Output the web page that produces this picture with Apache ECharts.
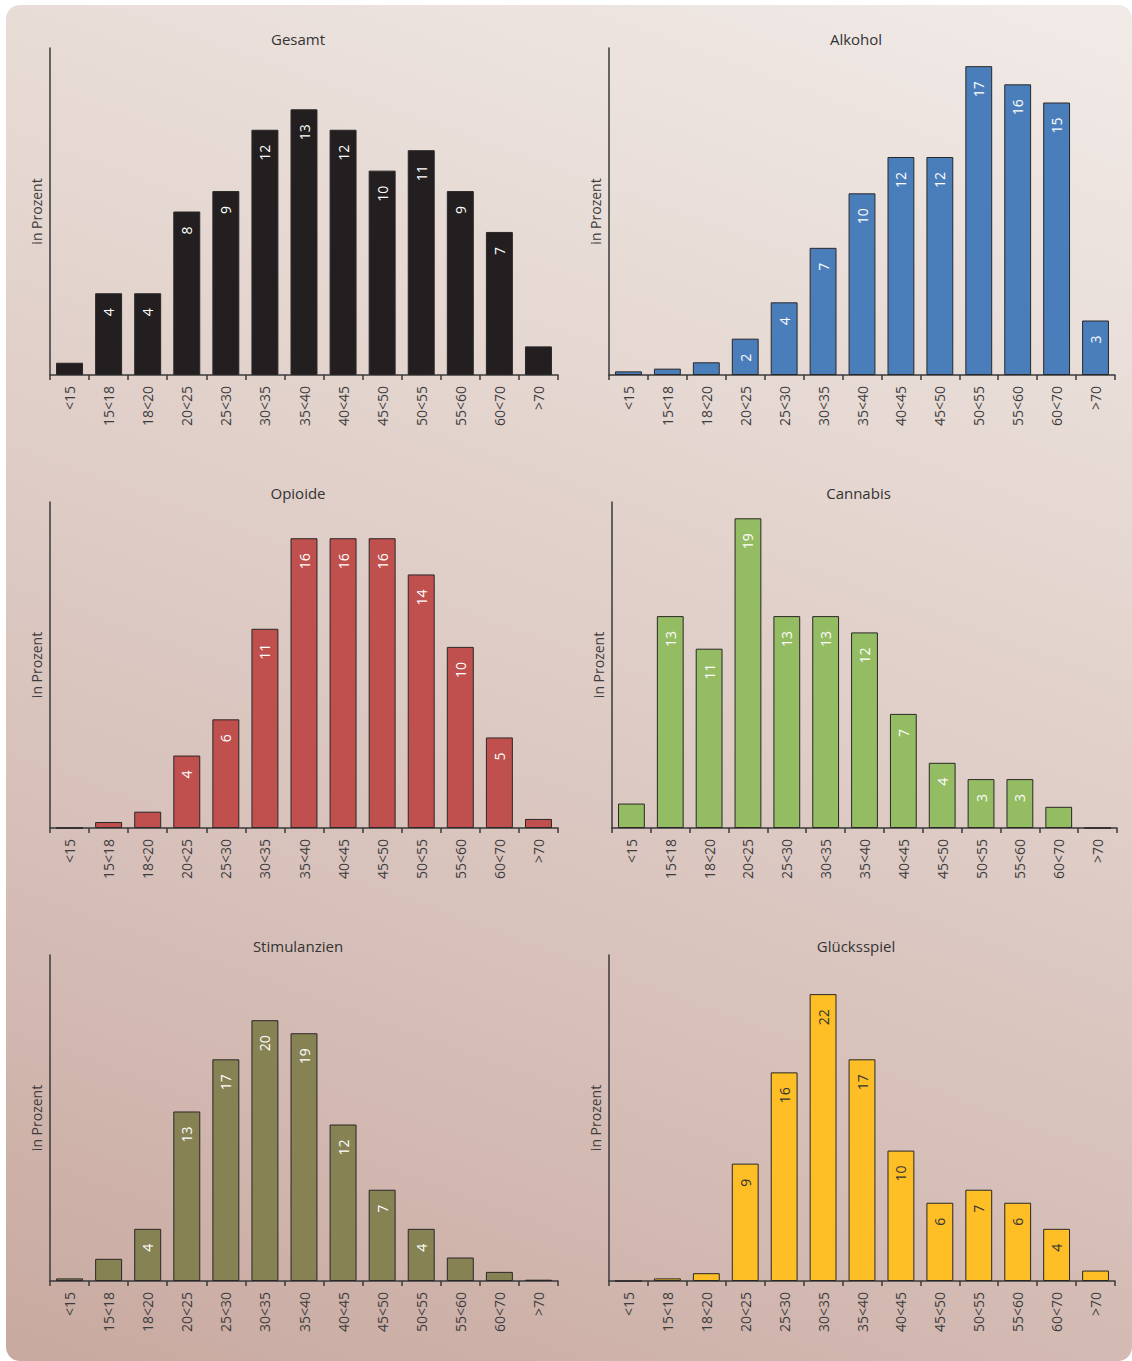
<!DOCTYPE html>
<html lang="de">
<head>
<meta charset="utf-8">
<title>Altersverteilung nach Hauptdiagnose</title>
<script src="https://cdn.jsdelivr.net/npm/echarts@6/dist/echarts.min.js"></script>
<style>
  html, body { margin: 0; padding: 0; background: #ffffff; }
  #panel {
    position: absolute; left: 6px; top: 5px; width: 1126px; height: 1356px;
    border-radius: 14px;
    background: linear-gradient(200deg, #f1ebe8 0%, #e4d5cf 35%, #d6bfb8 70%, #c8a9a0 100%);
  }
  #chart { position: absolute; left: 0; top: 0; width: 1132px; height: 1361px; }
</style>
</head>
<body>
<div id="panel"></div>
<div id="chart"></div>
<script>
// Altersgruppen (Kategorien der x-Achse)
const categories = ['<15', '15<18', '18<20', '20<25', '25<30', '30<35', '35<40',
                    '40<45', '45<50', '50<55', '55<60', '60<70', '>70'];

// Anteile je Altersgruppe in Prozent
const gesamt       = [0.6, 4, 4, 8, 9, 12, 13, 12, 10, 11, 9, 7, 1.4];
const alkohol      = [0.2, 0.35, 0.7, 2, 4, 7, 10, 12, 12, 17, 16, 15, 3];
const opioide      = [0, 0.33, 0.9, 4, 6, 11, 16, 16, 16, 14, 10, 5, 0.5];
const cannabis     = [1.5, 13, 11, 19, 13, 13, 12, 7, 4, 3, 3, 1.3, 0];
const stimulanzien = [0.2, 1.7, 4, 13, 17, 20, 19, 12, 7, 4, 1.8, 0.7, 0.1];
const gluecksspiel = [0, 0.2, 0.6, 9, 16, 22, 17, 10, 6, 7, 6, 4, 0.8];

const panelTitles = ['Gesamt', 'Alkohol', 'Opioide', 'Cannabis', 'Stimulanzien', 'Glücksspiel'];
const yAxisName = 'in Prozent';

const FONT = '"Open Sans", "Noto Sans", sans-serif';

// one entry per small multiple: data, colours, grid box, value-axis maximum
const panels = [
  { data: gesamt,       fill: '#231f20', text: '#ffffff', box: [50, 48, 508, 327],  max: 16 },
  { data: alkohol,      fill: '#4a7ebb', text: '#ffffff', box: [609, 48, 506, 327], max: 18 },
  { data: opioide,      fill: '#c0504d', text: '#ffffff', box: [50, 502, 508, 326], max: 18 },
  { data: cannabis,     fill: '#94bc62', text: '#ffffff', box: [612, 502, 505, 326], max: 20 },
  { data: stimulanzien, fill: '#868254', text: '#ffffff', box: [50, 955, 508, 326], max: 25 },
  { data: gluecksspiel, fill: '#fdbe26', text: '#333333', box: [609, 955, 506, 326], max: 25 }
];

const axisColor = '#3a3a3a';
const grid = [], xAxis = [], yAxis = [], series = [], title = [];

panels.forEach((p, i) => {
  const [left, top, width, height] = p.box;
  grid.push({ left, top, width, height, containLabel: false });

  title.push({
    text: panelTitles[i],
    left: left + width / 2 - 6,
    top: top - 9,
    padding: 0,
    textAlign: 'center',
    textVerticalAlign: 'middle',
    textStyle: { fontFamily: FONT, fontSize: 15, fontWeight: 'normal', color: '#333333' }
  });

  xAxis.push({
    type: 'category',
    gridIndex: i,
    data: categories,
    boundaryGap: true,
    axisLine: { show: true, lineStyle: { color: axisColor, width: 1.5 } },
    axisTick: { show: true, length: 5, lineStyle: { color: axisColor, width: 1.5 } },
    axisLabel: {
      rotate: 90, margin: 11, interval: 0,
      fontFamily: FONT, fontSize: 14, color: '#3c3c3c'
    },
    splitLine: { show: false }
  });

  yAxis.push({
    type: 'value',
    gridIndex: i,
    min: 0,
    max: p.max,
    name: yAxisName,
    nameLocation: 'middle',
    nameGap: 7,
    nameTextStyle: { fontFamily: FONT, fontSize: 14, color: '#3c3c3c' },
    axisLine: { show: true, lineStyle: { color: axisColor, width: 1.5 } },
    axisTick: { show: false },
    axisLabel: { show: false },
    splitLine: { show: false }
  });

  series.push({
    type: 'bar',
    xAxisIndex: i,
    yAxisIndex: i,
    data: p.data,
    barCategoryGap: '31%',
    itemStyle: { color: p.fill, borderColor: '#2a2727', borderWidth: 1 },
    label: {
      show: true,
      position: 'insideTop',
      distance: 15,
      rotate: 90,
      align: 'right',
      verticalAlign: 'middle',
      fontFamily: FONT,
      fontSize: 14,
      color: p.text,
      // bars below 2 % are too short to carry a value
      formatter: (d) => (d.value >= 2 ? String(d.value) : '')
    },
    emphasis: { disabled: true },
    animation: false
  });
});

const chart = echarts.init(document.getElementById('chart'), null, { renderer: 'svg' });
chart.setOption({
  backgroundColor: 'transparent',
  animation: false,
  title, grid, xAxis, yAxis, series
});
</script>
</body>
</html>
